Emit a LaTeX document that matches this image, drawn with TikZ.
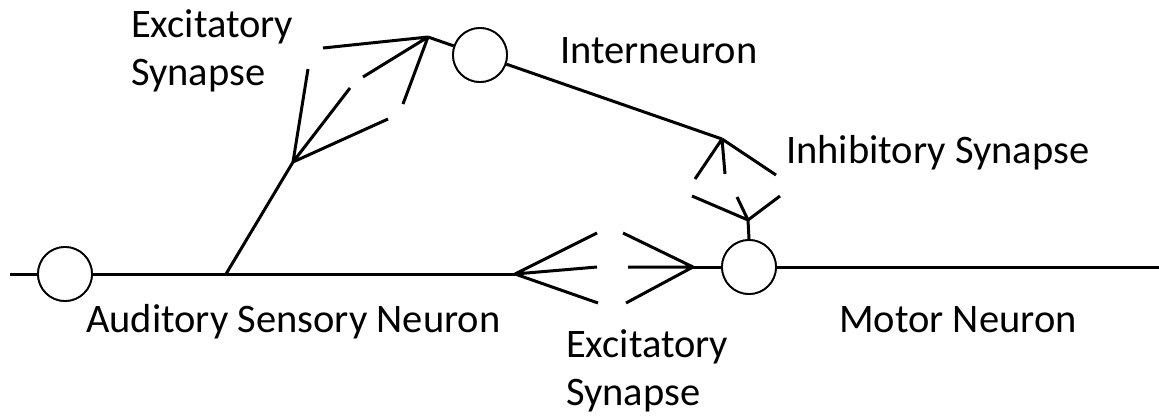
\documentclass[tikz,border=0pt]{standalone}
\usepackage{fontspec}
\setmainfont{Carlito}
\begin{document}
\begin{tikzpicture}[x=1pt,y=-1pt,
  soma/.style={circle,draw,line width=1.8pt,minimum size=54pt,inner sep=0pt,fill=white},
  axon/.style={line width=3pt},
  lbl/.style={anchor=base west,inner sep=0pt,font=\fontsize{40.5}{48}\selectfont,align=left}]
\useasboundingbox (0,0) rectangle (1159,416);
% somas
\node[soma] (sens) at (65,274) {};
\node[soma] (inter) at (480,55) {};
\node[soma] (motor) at (749,267) {};
% coordinates
\coordinate (sL) at (10,274);
\coordinate (br) at (226,274);
\coordinate (f1) at (293,162);
\coordinate (f1a) at (308,69);
\coordinate (f1b) at (350,88);
\coordinate (f1c) at (388,119);
\coordinate (t1) at (428,37);
\coordinate (t1a) at (323,48);
\coordinate (t1b) at (363,77);
\coordinate (t1c) at (403,104);
\coordinate (f2) at (515,274);
\coordinate (f2a) at (597,233);
\coordinate (f2b) at (597,267);
\coordinate (f2c) at (598,303);
\coordinate (t2) at (693,267);
\coordinate (t2a) at (623,233);
\coordinate (t2b) at (628,267);
\coordinate (t2c) at (626,303);
\coordinate (f3) at (722,139);
\coordinate (f3a) at (695,179);
\coordinate (f3b) at (725,174);
\coordinate (f3c) at (776,175);
\coordinate (t3) at (748,220);
\coordinate (t3a) at (692,196);
\coordinate (t3b) at (737,197);
\coordinate (t3c) at (780,196);
\coordinate (mR) at (1159,267);
% sensory neuron
\draw[axon] (sL) -- (sens.west);
\draw[axon] (sens.east) -- (f2);
\draw[axon] (br) -- (f1);
\draw[axon] (f1) -- (f1a) (f1) -- (f1b) (f1) -- (f1c);
\draw[axon] (f2) -- (f2a) (f2) -- (f2b) (f2) -- (f2c);
% interneuron dendrite
\draw[axon] (t1a) -- (t1) (t1b) -- (t1) (t1c) -- (t1);
\draw[axon] (t1) -- (inter);
\draw[axon] (inter) -- (f3);
\draw[axon] (f3) -- (f3a) (f3) -- (f3b) (f3) -- (f3c);
% motor neuron
\draw[axon] (t2a) -- (t2) (t2b) -- (t2) (t2c) -- (t2);
\draw[axon] (t2) -- (motor.west);
\draw[axon] (t3a) -- (t3) (t3b) -- (t3) (t3c) -- (t3);
\draw[axon] (t3) -- (motor.north);
\draw[axon] (motor.east) -- (mR);
% redraw somas on top
\node[soma] at (sens) {};
\node[soma] at (inter) {};
\node[soma] at (motor) {};
% labels
\node[lbl] (l1) at (131,85) {Excitatory\\Synapse};
\node[lbl] (l2) at (560,63) {Interneuron};
\node[lbl] (l3) at (786,163) {Inhibitory Synapse};
\node[lbl] (l4) at (86,332) {Auditory Sensory Neuron};
\node[lbl] (l5) at (839,332) {Motor Neuron};
\node[lbl] (l6) at (566,405) {Excitatory\\Synapse};
\end{tikzpicture}
\end{document}
